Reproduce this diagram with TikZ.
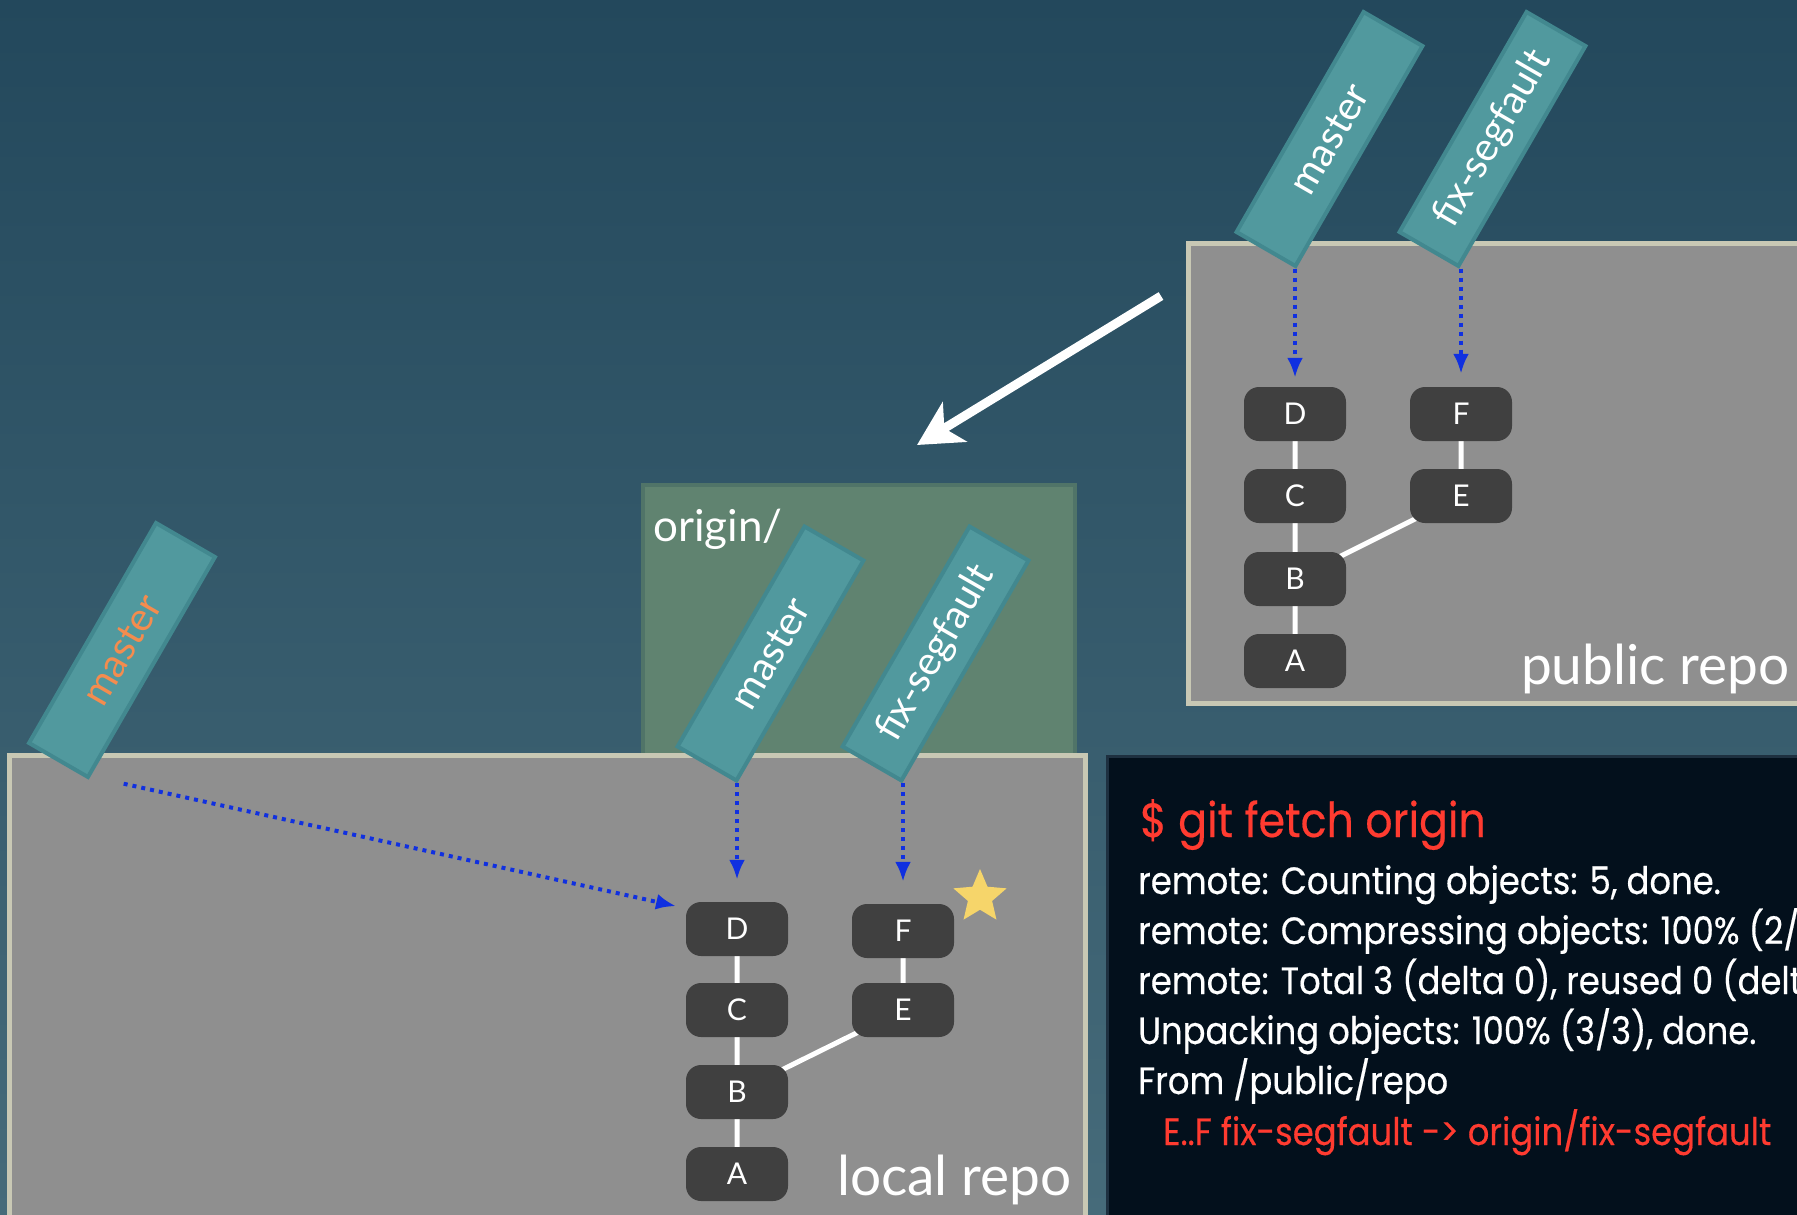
\documentclass[tikz,border=0pt]{standalone}
\usepackage{fontspec}
\setmainfont{Lato}
\newfontfamily\termfont[FakeStretch=0.89,FakeBold=0.4]{Poppins}
\usetikzlibrary{arrows.meta,shapes.geometric}
\pgfdeclarelayer{background}
\pgfsetlayers{background,main}

\definecolor{bgtop}{RGB}{35,72,92}
\definecolor{bgbottom}{RGB}{70,107,122}
\definecolor{repogray}{RGB}{143,143,143}
\definecolor{repoedge}{RGB}{200,200,180}
\definecolor{commitgray}{RGB}{64,64,64}
\definecolor{stripteal}{RGB}{81,153,158}
\definecolor{stripedge}{RGB}{66,136,143}
\definecolor{origingreen}{RGB}{96,131,112}
\definecolor{originedge}{RGB}{80,116,104}
\definecolor{fetchblue}{RGB}{16,48,224}
\definecolor{staryellow}{RGB}{246,213,106}
\definecolor{masterorange}{RGB}{244,140,78}
\definecolor{termbg}{RGB}{3,16,28}
\definecolor{termedge}{RGB}{30,48,64}
\definecolor{termred}{RGB}{255,59,48}

\begin{document}
\begin{tikzpicture}[x=1pt,y=1pt,
  commit/.style={fill=commitgray, text=white, rounded corners=15pt, minimum width=102pt,
    minimum height=54pt, inner sep=0, font=\fontsize{30}{30}\selectfont},
  branch/.style={draw=stripedge, fill=stripteal, line width=4pt, minimum width=254pt,
    minimum height=68pt, inner sep=0, rotate=60, text=white, font=\fontsize{40}{40}\selectfont},
  fetch/.style={draw=fetchblue, line width=4pt, dash pattern=on 4pt off 5pt,
    -{Latex[length=20pt,width=16pt]}},
  link/.style={draw=white, line width=5pt},
  repolabel/.style={text=white, font=\fontsize{55}{55}\selectfont, inner sep=0},
  termline/.style={text=white, anchor=base west, inner sep=0, font=\termfont\fontsize{38}{38}\selectfont}]
  \useasboundingbox (0,0) rectangle (1797,-1215);
  \clip (0,0) rectangle (1797,-1215);
  \begin{pgfonlayer}{background}
    \shade [top color=bgtop, bottom color=bgbottom] (0,0) rectangle (1797,-1215);
    \draw [fill=origingreen, draw=originedge, line width=4pt] (643,-485) rectangle (1075,-770);
    \draw [fill=repogray, draw=repoedge, line width=5pt] (9,-755) rectangle (1085,-1230);
    \draw [fill=repogray, draw=repoedge, line width=5pt] (1188,-243) rectangle (1820,-703);
    \draw [fill=termbg, draw=termedge, line width=3pt] (1107,-756) rectangle (1820,-1230);
  \end{pgfonlayer}

  % commits
  \foreach \n/\x/\y in {D/737/929, C/737/1010, B/737/1092, A/737/1174, F/903/931, E/903/1010}
    \node[commit] (l\n) at (\x,-\y) {\n};
  \foreach \n/\x/\y in {D/1295/414, C/1295/496, B/1295/579, A/1295/661, F/1461/414, E/1461/496}
    \node[commit] (p\n) at (\x,-\y) {\n};
  \begin{pgfonlayer}{background}
    \foreach \repo in {l,p}
      \draw[link] (\repo D.center) -- (\repo C.center) -- (\repo B.center) -- (\repo A.center)
        (\repo F.center) -- (\repo E.center) -- (\repo B.center);
  \end{pgfonlayer}
  \node[star, star points=5, star point ratio=2.2, fill=staryellow, minimum size=56pt, inner sep=0] (lstar) at (980,-897) {};

  \node[repolabel, anchor=base east] (llabel) at (1072,-1195) {local repo};
  \node[repolabel, anchor=base east] (plabel) at (1790,-684) {public repo};
  \node[text=white, anchor=base west, inner sep=0, font=\fontsize{44}{44}\selectfont] (olabel) at (653,-541) {origin/};

  % branches
  \node[branch] (pmaster) at (1329.5,-139) {master};
  \node[branch] (pfix) at (1492.5,-139) {fix-segfault};
  \node[branch] (omaster) at (770.5,-653.5) {master};
  \node[branch] (ofix) at (935.5,-653.5) {fix-segfault};
  \node[branch, text=masterorange] (lmaster) at (122,-650) {master};

  \draw[fetch, shorten >=9pt] (pD.north |- pmaster.south west) -- (pD.north);
  \draw[fetch, shorten >=13pt] (pF.north |- pfix.south west) -- (pF.north);
  \draw[fetch, shorten >=22pt] (lD.north |- omaster.south west) -- (lD.north);
  \draw[fetch, shorten >=22pt] (lF.north |- ofix.south west) -- (lF.north);
  \draw[fetch, shorten >=10pt] ([xshift=35pt,yshift=-4pt]lmaster.south west) -- (lD.158);

  \coordinate (fetchfrom) at (1161,-296);
  \coordinate (fetchto) at (917,-445);
  \draw[white, line width=9pt, -{Stealth[length=44pt,width=46pt,inset=12pt]}] (fetchfrom) -- (fetchto);

  % terminal
  \node[text=termred, anchor=base west, inner sep=0, font=\termfont\fontsize{48}{48}\selectfont] (tcmd) at (1140,-837) {\$ git fetch origin};
  \foreach \i/\t in {0/{remote: Counting objects: 5, done.},
      1/{remote: Compressing objects: 100\% (2/2), done.},
      2/{remote: Total 3 (delta 0), reused 0 (delta 0)},
      3/{Unpacking objects: 100\% (3/3), done.},
      4/{From /public/repo}}
    \node[termline] (tline\i) at (1138,-894-50*\i) {\t};
  \node[termline, text=termred] (tline5) at (1163,-1145) {E..F fix-segfault -> origin/fix-segfault};
\end{tikzpicture}
\end{document}
